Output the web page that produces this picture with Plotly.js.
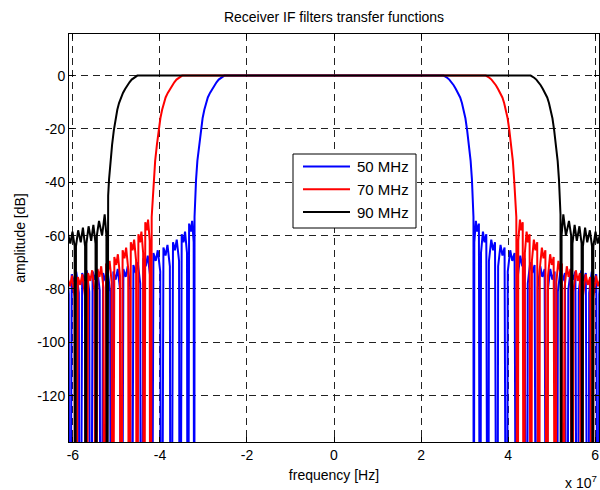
<!DOCTYPE html>
<html>
<head>
<meta charset="utf-8">
<script src="https://cdn.plot.ly/plotly-3.0.1.min.js"></script>
<style>html,body{margin:0;padding:0;background:#fff;}#chart{width:600px;height:490px;}</style>
</head>
<body>
<div id="chart"></div>
<script>
// Frequency in units of 1e7 Hz, amplitude in dB (-300 = spectral null, below the axis)
const seriesNames = ["50 MHz", "70 MHz", "90 MHz"];
const xTicks = [-6, -4, -2, 0, 2, 4, 6];
const yTicks = [-120, -100, -80, -60, -40, -20, 0];

const blueFreq = [-6.13,-6.095,-6.08,
 -6.027,-5.972,-5.924,-5.864,-5.84, -5.787,-5.732,-5.684,-5.624,-5.60, -5.547,-5.492,-5.444,-5.384,-5.36,
 -5.307,-5.252,-5.204,-5.144,-5.12, -5.07,-5.017,-4.97,-4.913,-4.89, -4.84,-4.787,-4.74,-4.683,-4.66,
 -4.61,-4.557,-4.51,-4.453,-4.43, -4.38,-4.327,-4.28,-4.223,-4.20, -4.15,-4.097,-4.05,-3.993,-3.97,
 -3.92,-3.871,-3.827,-3.772,-3.75, -3.70,-3.656,-3.614,-3.561,-3.54, -3.50,-3.459,-3.423,-3.378,-3.36,
 -3.33,-3.29,-3.26,-3.225,-3.21,
 -3.205,-3.19,-3.17,-3.14,-3.10,-3.06,-3.02,-2.98,-2.94,-2.90,-2.85,-2.80,-2.75,-2.70,-2.65,-2.60,-2.56,-2.52,
 2.52,2.56,2.60,2.65,2.70,2.75,2.80,2.85,2.90,2.94,2.98,3.02,3.06,3.10,3.14,3.17,3.19,3.205,
 3.21,3.225,3.26,3.29,3.33, 3.36,3.378,3.423,3.459,3.50, 3.54,3.561,3.614,3.656,3.70,
 3.75,3.772,3.827,3.871,3.92, 3.97,3.993,4.05,4.097,4.15, 4.20,4.223,4.28,4.327,4.38,
 4.43,4.453,4.51,4.557,4.61, 4.66,4.683,4.74,4.787,4.84, 4.89,4.913,4.97,5.017,5.07,
 5.12,5.144,5.204,5.252,5.307, 5.36,5.384,5.444,5.492,5.547, 5.60,5.624,5.684,5.732,5.787,
 5.84,5.864,5.924,5.972,6.027, 6.08,6.095,6.13];
const blueAmp = [-74,-82,-300,
 -74.5,-77.5,-73.5,-81.5,-300, -74,-77,-73,-81,-300, -73.5,-76.5,-72.5,-80.5,-300,
 -74,-77,-73,-81,-300, -73.5,-76.5,-72.5,-80.5,-300, -72.5,-75.5,-71.5,-79.5,-300,
 -71,-74,-70,-78,-300, -68.5,-71.5,-67.5,-75.5,-300, -66.5,-69.5,-65.5,-73.5,-300,
 -64.5,-67.5,-63.5,-71.5,-300, -62.5,-65.5,-61.5,-69.5,-300, -59.5,-62.5,-58.5,-66.5,-300,
 -55.5,-58.5,-54.5,-62.5,-300,
 -53,-45,-39,-32,-26,-20.5,-16,-12.8,-10.3,-8.2,-6.5,-5,-3.6,-2.5,-1.5,-0.8,-0.3,0,
 0,-0.3,-0.8,-1.5,-2.5,-3.6,-5,-6.5,-8.2,-10.3,-12.8,-16,-20.5,-26,-32,-39,-45,-53,
 -300,-62.5,-54.5,-58.5,-55.5, -300,-66.5,-58.5,-62.5,-59.5, -300,-69.5,-61.5,-65.5,-62.5,
 -300,-71.5,-63.5,-67.5,-64.5, -300,-73.5,-65.5,-69.5,-66.5, -300,-75.5,-67.5,-71.5,-68.5,
 -300,-78,-70,-74,-71, -300,-79.5,-71.5,-75.5,-72.5, -300,-80.5,-72.5,-76.5,-73.5,
 -300,-81,-73,-77,-74, -300,-80.5,-72.5,-76.5,-73.5, -300,-81,-73,-77,-74,
 -300,-81.5,-73.5,-77.5,-74.5, -300,-82,-74];

const redFreq = [-6.12,-6.067,-6.02,-5.963,-5.94, -5.887,-5.832,-5.784,-5.724,-5.70,
 -5.652,-5.601,-5.557,-5.502,-5.48, -5.436,-5.39,-5.35,-5.30,-5.28, -5.238,-5.195,-5.157,-5.109,-5.09,
 -5.048,-5.005,-4.967,-4.919,-4.90, -4.858,-4.815,-4.777,-4.729,-4.71, -4.67,-4.629,-4.593,-4.548,-4.53,
 -4.495,-4.458,-4.426,-4.386,-4.37, -4.337,-4.303,-4.273,-4.235,-4.22,
 -4.19,-4.16,-4.14,-4.11,-4.07,-4.03,-3.99,-3.95,-3.91,-3.87,-3.82,-3.77,-3.72,-3.67,-3.62,-3.57,-3.53,-3.49,
 3.49,3.53,3.57,3.62,3.67,3.72,3.77,3.82,3.87,3.91,3.95,3.99,4.03,4.07,4.11,4.14,4.16,4.19,
 4.22,4.235,4.273,4.303,4.337, 4.37,4.386,4.426,4.458,4.495, 4.53,4.548,4.593,4.629,4.67,
 4.71,4.729,4.777,4.815,4.858, 4.90,4.919,4.967,5.005,5.048, 5.09,5.109,5.157,5.195,5.238,
 5.28,5.30,5.35,5.39,5.436, 5.48,5.502,5.557,5.601,5.652, 5.70,5.724,5.784,5.832,5.887,
 5.94,5.963,6.02,6.067,6.12];
const redAmp = [-76,-79,-75,-83,-300, -75.5,-78.5,-74.5,-82.5,-300,
 -74,-77,-73,-81,-300, -72.5,-75.5,-71.5,-79.5,-300, -70.5,-73.5,-69.5,-77.5,-300,
 -68,-71,-67,-75,-300, -65.5,-68.5,-64.5,-72.5,-300, -62.5,-65.5,-61.5,-69.5,-300,
 -59.5,-62.5,-58.5,-66.5,-300, -55,-58,-54,-62,-300,
 -53,-45,-39,-32,-26,-20.5,-16,-12.8,-10.3,-8.2,-6.5,-5,-3.6,-2.5,-1.5,-0.8,-0.3,0,
 0,-0.3,-0.8,-1.5,-2.5,-3.6,-5,-6.5,-8.2,-10.3,-12.8,-16,-20.5,-26,-32,-39,-45,-53,
 -300,-62,-54,-58,-55, -300,-66.5,-58.5,-62.5,-59.5, -300,-69.5,-61.5,-65.5,-62.5,
 -300,-72.5,-64.5,-68.5,-65.5, -300,-75,-67,-71,-68, -300,-77.5,-69.5,-73.5,-70.5,
 -300,-79.5,-71.5,-75.5,-72.5, -300,-81,-73,-77,-74, -300,-82.5,-74.5,-78.5,-75.5,
 -300,-83,-75,-79,-76];

const blackFreq = [-6.12,-6.06,-6.01,-5.96,-5.95, -5.93,-5.88,-5.82,-5.77,-5.72,-5.71,
 -5.69,-5.64,-5.58,-5.53,-5.48,-5.47, -5.45,-5.40,-5.33,-5.27,-5.23,-5.22,
 -5.205,-5.19,-5.17,-5.14,-5.10,-5.06,-5.02,-4.98,-4.94,-4.90,-4.85,-4.80,-4.75,-4.70,-4.65,-4.60,-4.56,-4.52,
 4.52,4.56,4.60,4.65,4.70,4.75,4.80,4.85,4.90,4.94,4.98,5.02,5.06,5.10,5.14,5.17,5.19,5.205,
 5.22,5.23,5.27,5.33,5.40,5.45, 5.47,5.48,5.53,5.58,5.64,5.69,
 5.71,5.72,5.77,5.82,5.88,5.93, 5.95,5.96,6.01,6.06,6.12];
const blackAmp = [-59,-63,-58.5,-64,-300, -64,-58,-62.5,-57,-64,-300,
 -63,-56.5,-62,-56,-63,-300, -60,-54.5,-60,-52,-60,-300,
 -52,-45,-39,-32,-26,-20.5,-16,-12.8,-10.3,-8.2,-6.5,-5,-3.6,-2.5,-1.5,-0.8,-0.3,0,
 0,-0.3,-0.8,-1.5,-2.5,-3.6,-5,-6.5,-8.2,-10.3,-12.8,-16,-20.5,-26,-32,-39,-45,-52,
 -300,-60,-52,-60,-54.5,-60, -300,-63,-56,-62,-56.5,-63,
 -300,-64,-57,-62.5,-58,-64, -300,-64,-58.5,-63,-59];

const colors = ["#0000ff", "#ff0000", "#000000"];
const FONT = "Liberation Sans, Arial, Helvetica, sans-serif";

const traces = [
  {x: blueFreq, y: blueAmp, name: seriesNames[0]},
  {x: redFreq, y: redAmp, name: seriesNames[1]},
  {x: blackFreq, y: blackAmp, name: seriesNames[2]}
].map((t, i) => Object.assign(t, {
  type: "scatter", mode: "lines",
  line: {color: colors[i], width: 2},
  hoverinfo: "skip", showlegend: false
}));

// custom MATLAB-like legend (paper coordinates)
const W = 530, H = 408, L = 69, T = 34;
const px = v => (v - L) / W;
const py = v => (T + H - v) / H;
const legRowsY = [166.5, 189.3, 212];
const shapes = [{
  type: "rect", xref: "paper", yref: "paper",
  x0: px(293), x1: px(416), y0: py(228), y1: py(154),
  line: {color: "#000", width: 1}, fillcolor: "#fff", layer: "above"
}];
const annotations = [];
seriesNames.forEach((n, i) => {
  shapes.push({type: "line", xref: "paper", yref: "paper",
    x0: px(303), x1: px(350), y0: py(legRowsY[i]), y1: py(legRowsY[i]),
    line: {color: colors[i], width: 2}, layer: "above"});
  annotations.push({xref: "paper", yref: "paper", x: px(355), y: py(legRowsY[i]),
    xanchor: "left", yanchor: "middle", showarrow: false, text: n,
    font: {family: FONT, size: 15, color: "#000"}});
});
annotations.push({xref: "paper", yref: "paper", x: px(599), y: py(482),
  xanchor: "right", yanchor: "middle", showarrow: false,
  text: "x 10<sup>7</sup>", font: {family: FONT, size: 14, color: "#000"}});

const axisCommon = {
  showline: true, mirror: "ticks", linecolor: "#000", linewidth: 1,
  ticks: "inside", ticklen: 5, tickcolor: "#000",
  showgrid: true, gridcolor: "#222", gridwidth: 1, griddash: "7px,5px",
  zeroline: false, tickfont: {family: FONT, size: 14, color: "#000"}
};

const layout = {
  width: 600, height: 490,
  margin: {l: L, r: 600 - L - W, t: T, b: 490 - T - H},
  paper_bgcolor: "#fff", plot_bgcolor: "#fff",
  font: {family: FONT, color: "#000"},
  title: {text: "Receiver IF filters transfer functions", font: {family: FONT, size: 14, color: "#000"},
    x: px(334), xref: "paper", y: 1 - 17 / 490, yref: "container", xanchor: "center", yanchor: "middle"},
  xaxis: Object.assign({}, axisCommon, {
    range: [-6.09, 6.09], tickvals: xTicks, ticktext: xTicks.map(String),
    title: {text: "frequency [Hz]", font: {family: FONT, size: 14, color: "#000"}, standoff: 8}
  }),
  yaxis: Object.assign({}, axisCommon, {
    range: [-137.4, 15.6], tickvals: yTicks, ticktext: yTicks.map(String),
    title: {text: "amplitude [dB]", font: {family: FONT, size: 14, color: "#000"}, standoff: 8}
  }),
  shapes: shapes, annotations: annotations, showlegend: false
};

Plotly.newPlot("chart", traces, layout, {displayModeBar: false, staticPlot: true});
</script>
</body>
</html>
